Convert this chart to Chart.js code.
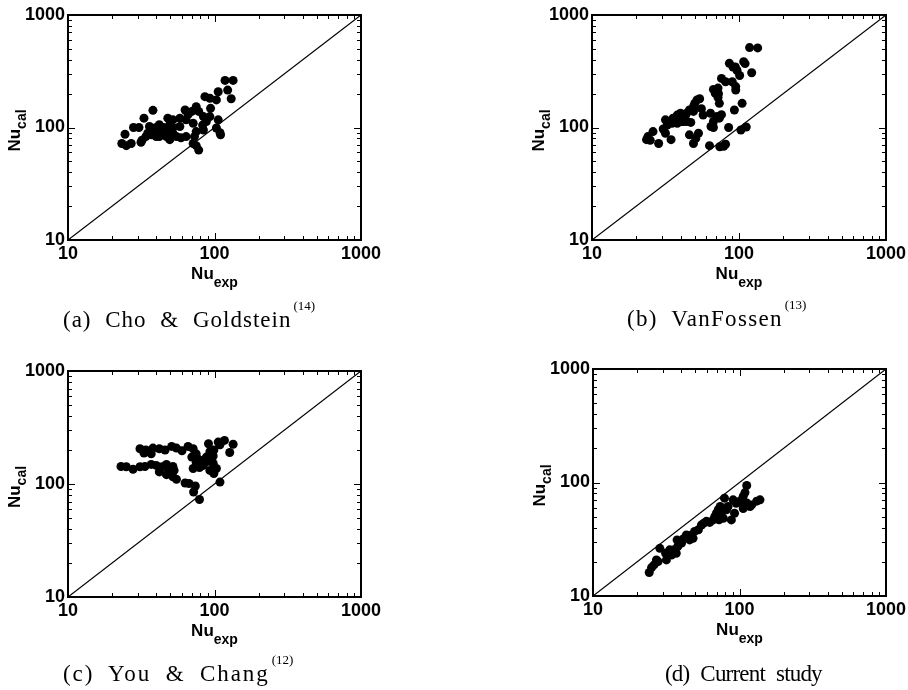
<!DOCTYPE html>
<html><head><meta charset="utf-8">
<script src="https://cdn.jsdelivr.net/npm/chart.js@4.4.0/dist/chart.umd.min.js"></script>
<style>
html,body{margin:0;padding:0;background:#fff;width:908px;height:690px;overflow:hidden;position:relative}
canvas{position:absolute}
.cap{position:absolute;font-family:"Liberation Serif","Times New Roman",serif;font-size:23px;color:#000;white-space:nowrap;word-spacing:7px;line-height:22px}
.cap sup{font-size:13px;vertical-align:baseline;position:relative;top:-17px;margin-left:2px;letter-spacing:0;word-spacing:0}
</style></head><body>
<canvas id="ca" width="391" height="320" style="left:0px;top:0px"></canvas>
<canvas id="cb" width="392" height="320" style="left:524px;top:0px"></canvas>
<canvas id="cc" width="391" height="321" style="left:0px;top:356px"></canvas>
<canvas id="cd" width="391" height="322" style="left:525px;top:354px"></canvas>
<div class="cap" style="left:63px;top:309px;letter-spacing:1px">(a) Cho &amp; Goldstein<sup>(14)</sup></div>
<div class="cap" style="left:627px;top:308px;letter-spacing:1.3px">(b) VanFossen<sup>(13)</sup></div>
<div class="cap" style="left:63px;top:663px;letter-spacing:1.9px">(c) You &amp; Chang<sup>(12)</sup></div>
<div class="cap" style="left:665px;top:663px;word-spacing:6px;letter-spacing:-0.8px">(d) Current study</div>
<script>
// ---- data (Nu_exp, Nu_cal) ----
const choGoldstein = [[118,262],[134,262],[130,180],[123,215],[106,208],[103,176],[86,188],[93,182],[94,148],[106,117],[93,125],[103,99],[109,90],[110,86],[83,105],[84,95],[75,153],[78,139],[70,139],[66,130],[64,117],[71.5,109],[75,92],[73,83],[71.5,72],[75,69],[78,63],[64,83],[59,81],[55,83],[52,117],[48,121],[58,121],[48,95],[52,89],[46,86],[45,100],[42,106],[40,100],[38,95],[38,142],[36,102],[35,89],[32,77],[31.5,74],[34,83],[40,83],[42,83],[47,83],[49.5,78],[37,86],[33,121],[30.5,100],[28,100],[24.5,87],[23.3,72],[25,69],[27,72],[41,92],[52,100],[63,143],[84,125],[88,113],[58,102],[49.5,106]];
const vanFossen = [[118,513],[134,510],[122,307],[107.6,385],[110,370],[94.5,345],[97,321],[86,372],[91,345],[101,290],[95,231],[95,215],[90,255],[76,273],[81,255],[72,224],[67,218],[69,201],[72,185],[73.5,164],[72.5,200],[64,134],[67,113],[64.5,102],[70.8,125],[76,130],[73.5,121],[67,100],[85,100],[93,143],[105,164],[103,95],[112,101],[74,67.5],[81,71],[78.7,68],[63,69],[51.8,176],[54,180],[50,164],[55.5,147],[57,129],[49,153],[49,139],[46,143],[44,134],[43,125],[42,113],[40,134],[38,129],[35.6,121],[35,109],[33,109],[32.5,105],[31.6,117],[30.5,97],[31.6,89],[34.5,78],[38,109],[41,113],[44,113],[47,111],[46,86],[49,72],[53,89],[50.8,80],[28.4,72],[26,92],[24,83],[23.5,78],[24.9,77]];
const youChang = [[31,205],[34,200],[38,208],[42,205],[46,200],[51,215],[55,208],[60,197],[66,215],[71.5,205],[37,185],[33,188],[75,185],[70,173],[77,167],[79,158],[75,155],[84,162],[88,173],[93,193],[91,227],[106,235],[117,243],[134,225],[127,190],[109,222],[99,200],[98,177],[89,158],[98,152],[93,132],[99,124],[103,137],[84,146],[71.5,137],[79,140],[23,143],[25,142],[27.8,135],[31,142],[33.5,143],[37,149],[40,146],[44,142],[47,149],[52,143],[53,132],[49,132],[47,121],[52,116],[55,110],[42,128],[63,102],[67,101],[74,96],[72,85],[79,73],[109,104]];
const currentStudy = [[24.2,16.1],[25.1,17.8],[26.1,18.8],[27.1,20.8],[28.6,26.3],[27.8,20.1],[31.3,23.8],[31.7,20.8],[33.4,25.5],[34.3,23],[37,23.8],[37.9,27.3],[37.5,31.2],[36.1,25.7],[40.2,29.2],[41.5,32],[43.4,34.5],[45.7,31.2],[48.2,32.2],[49.4,37.1],[47,34.5],[52.4,38.3],[55,42.2],[57,43.8],[59.5,45.5],[62.6,44.5],[66.1,46.8],[67.8,50],[69.6,53.6],[71.6,57.5],[73.8,61.4],[72.5,47],[77.5,48.4],[79,72.8],[75,53.6],[81.5,57.5],[83.5,61.4],[88,46.8],[92.5,53.6],[95,65.7],[90.5,70.3],[100.5,68.5],[106,75.5],[109,81.5],[112,94],[106,59],[112,66],[121,63.5],[131,68.5],[138,70.3],[118,61.4]];
const diagonal = [[10,10],[1000,1000]];
const tickLabels = [10, 100, 1000];
const minorTicks = [20,30,40,50,60,70,80,90,200,300,400,500,600,700,800,900];
const xTitle = ['Nu', 'exp'];
const yTitle = ['Nu', 'cal'];

const toXY = arr => arr.map(p => ({x: p[0], y: p[1]}));
const labelFont = {family: '"Liberation Sans", Arial, sans-serif', size: 18, weight: 'bold'};

const decor = {
  id: 'decor',
  afterDraw(chart) {
    const {ctx, chartArea: a, scales} = chart;
    const x = scales.x, y = scales.y;
    ctx.save();
    ctx.strokeStyle = '#000';
    ctx.lineWidth = 1;
    ctx.beginPath();
    for (const v of minorTicks.concat(tickLabels)) {
      const len = tickLabels.includes(v) ? 7 : 4;
      const px = Math.round(x.getPixelForValue(v)) + 0.5;
      ctx.moveTo(px, a.bottom); ctx.lineTo(px, a.bottom - len);
      ctx.moveTo(px, a.top); ctx.lineTo(px, a.top + len);
      const py = Math.round(y.getPixelForValue(v)) + 0.5;
      ctx.moveTo(a.left, py); ctx.lineTo(a.left + len, py);
      ctx.moveTo(a.right, py); ctx.lineTo(a.right - len, py);
    }
    ctx.stroke();
    ctx.lineWidth = 2;
    ctx.strokeRect(a.left, a.top, a.right - a.left, a.bottom - a.top);
    const mainF = 'bold 17px "Liberation Sans", Arial, sans-serif';
    const subF = 'bold 14px "Liberation Sans", Arial, sans-serif';
    ctx.fillStyle = '#000';
    ctx.textBaseline = 'alphabetic';
    ctx.textAlign = 'left';
    // x title
    ctx.font = mainF; let wN = ctx.measureText(xTitle[0]).width;
    ctx.font = subF; let wS = ctx.measureText(xTitle[1]).width;
    let sx = (a.left + a.right) / 2 - (wN + wS) / 2;
    ctx.font = mainF; ctx.fillText(xTitle[0], sx, a.bottom + 39);
    ctx.font = subF; ctx.fillText(xTitle[1], sx + wN, a.bottom + 47);
    // y title
    ctx.font = mainF; wN = ctx.measureText(yTitle[0]).width;
    ctx.font = subF; wS = ctx.measureText(yTitle[1]).width;
    ctx.translate(a.left - 48, (a.top + a.bottom) / 2 + 3);
    ctx.rotate(-Math.PI / 2);
    sx = -(wN + wS) / 2;
    ctx.font = mainF; ctx.fillText(yTitle[0], sx, 0);
    ctx.font = subF; ctx.fillText(yTitle[1], sx + wN, 6);
    ctx.restore();
  }
};

function logAxis(pos, size) {
  return {
    type: 'logarithmic', min: 10, max: 1000, position: pos,
    afterBuildTicks: s => { s.ticks = tickLabels.map(v => ({value: v})); },
    afterFit: s => { if (pos === 'bottom') s.height = size; else s.width = size; },
    grid: {display: false, drawTicks: false, tickLength: 0}, border: {display: false},
    ticks: {font: labelFont, color: '#000', padding: 3,
            autoSkip: false, maxRotation: 0, callback: v => String(v)}
  };
}

function panel(id, pts) {
  new Chart(document.getElementById(id), {
    type: 'scatter',
    data: {datasets: [
      {data: toXY(diagonal), showLine: true, pointRadius: 0, borderColor: '#000', borderWidth: 1.2, order: 2},
      {data: toXY(pts), pointRadius: 4.5, backgroundColor: '#000', borderWidth: 0, order: 1}
    ]},
    options: {
      responsive: false, animation: false, devicePixelRatio: 1, events: [],
      layout: {padding: {left: 18, top: 15, right: 30, bottom: 50}},
      plugins: {legend: {display: false}, tooltip: {enabled: false}},
      scales: {x: logAxis('bottom', 30), y: logAxis('left', 50)}
    },
    plugins: [decor]
  });
}
panel('ca', choGoldstein);
panel('cb', vanFossen);
panel('cc', youChang);
panel('cd', currentStudy);
</script>
</body></html>
